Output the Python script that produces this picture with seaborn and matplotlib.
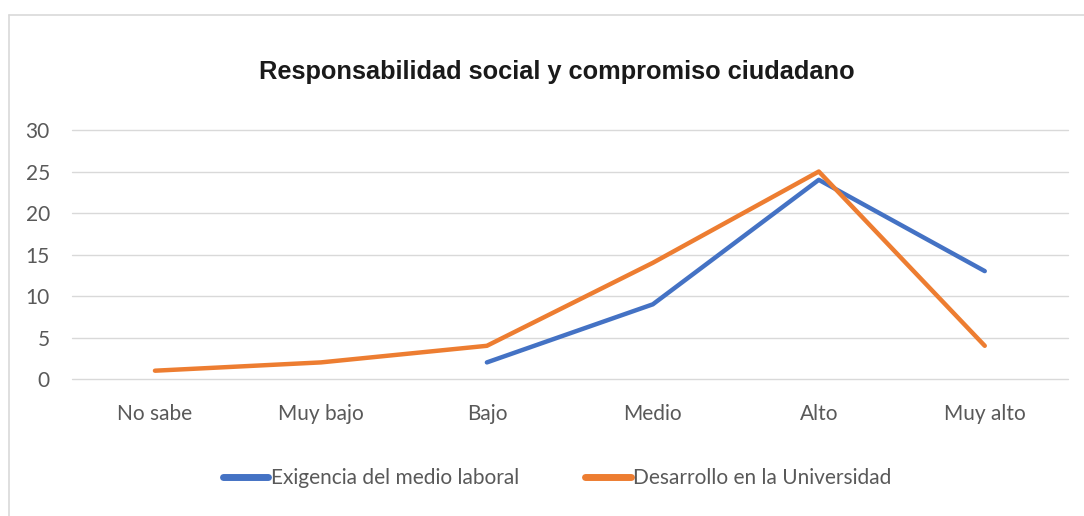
import pandas as pd
import numpy as np
import matplotlib
matplotlib.use("Agg")
import matplotlib.pyplot as plt
import seaborn as sns
from matplotlib.lines import Line2D

categorias = ["No sabe", "Muy bajo", "Bajo", "Medio", "Alto", "Muy alto"]
exigencia = [np.nan, np.nan, 2, 9, 24, 13]
desarrollo = [1, 2, 4, 14, 25, 4]
series = ["Exigencia del medio laboral", "Desarrollo en la Universidad"]
colores = ["#4472C4", "#ED7D31"]
y_ticks = [0, 5, 10, 15, 20, 25, 30]

df = pd.concat([
    pd.DataFrame({"cat": categorias, "valor": exigencia, "serie": series[0]}),
    pd.DataFrame({"cat": categorias, "valor": desarrollo, "serie": series[1]}),
], ignore_index=True)
df["x"] = df["cat"].map({c: i for i, c in enumerate(categorias)})

sns.set_style("white")
plt.rcParams["font.family"] = ["Lato", "DejaVu Sans"]

fig = plt.figure(figsize=(10.84, 5.16), dpi=100)
ax = fig.add_axes([0.0664, 0.2655, 0.9186, 0.4825])

sns.lineplot(data=df, x="x", y="valor", hue="serie", palette=colores,
             linewidth=3.2, sort=False, legend=False, ax=ax)

ax.set_xlim(-0.5, len(categorias) - 0.5)
ax.set_ylim(0, 30)
ax.set_yticks(y_ticks)
ax.set_xticks(range(len(categorias)))
ax.set_xticklabels(categorias)
ax.tick_params(axis="both", length=0, labelsize=15, labelcolor="#595959")
ax.tick_params(axis="x", pad=18)
ax.tick_params(axis="y", pad=16)
ax.grid(axis="y", color="#D9D9D9", linewidth=1)
for gl in ax.get_ygridlines():
    gl.set_clip_on(False)
ax.set_axisbelow(True)
for s in ax.spines.values():
    s.set_visible(False)
ax.set_xlabel("")
ax.set_ylabel("")

fig.text(0.514, 0.86, "Responsabilidad social y compromiso ciudadano",
         ha="center", va="center", fontsize=18.3, fontweight="bold",
         family=["Liberation Sans", "DejaVu Sans"], color="#1a1a1a")

handles = [Line2D([], [], color=c, linewidth=5, solid_capstyle="round")
           for c in colores]
fig.legend(handles, series, loc="center", bbox_to_anchor=(0.514, 0.073),
           ncol=2, frameon=False, fontsize=15, handlelength=2.2,
           handletextpad=0.1, columnspacing=3.2, labelcolor="#595959")

# marco exterior del grafico
fig.add_artist(Line2D([9 / 1084, 9 / 1084], [0, 1 - 15 / 516],
                      transform=fig.transFigure, color="#D9D9D9", linewidth=1.2))
fig.add_artist(Line2D([9 / 1084, 1], [1 - 15 / 516, 1 - 15 / 516],
                      transform=fig.transFigure, color="#D9D9D9", linewidth=1.2))

fig.savefig("out.png", dpi=100)
